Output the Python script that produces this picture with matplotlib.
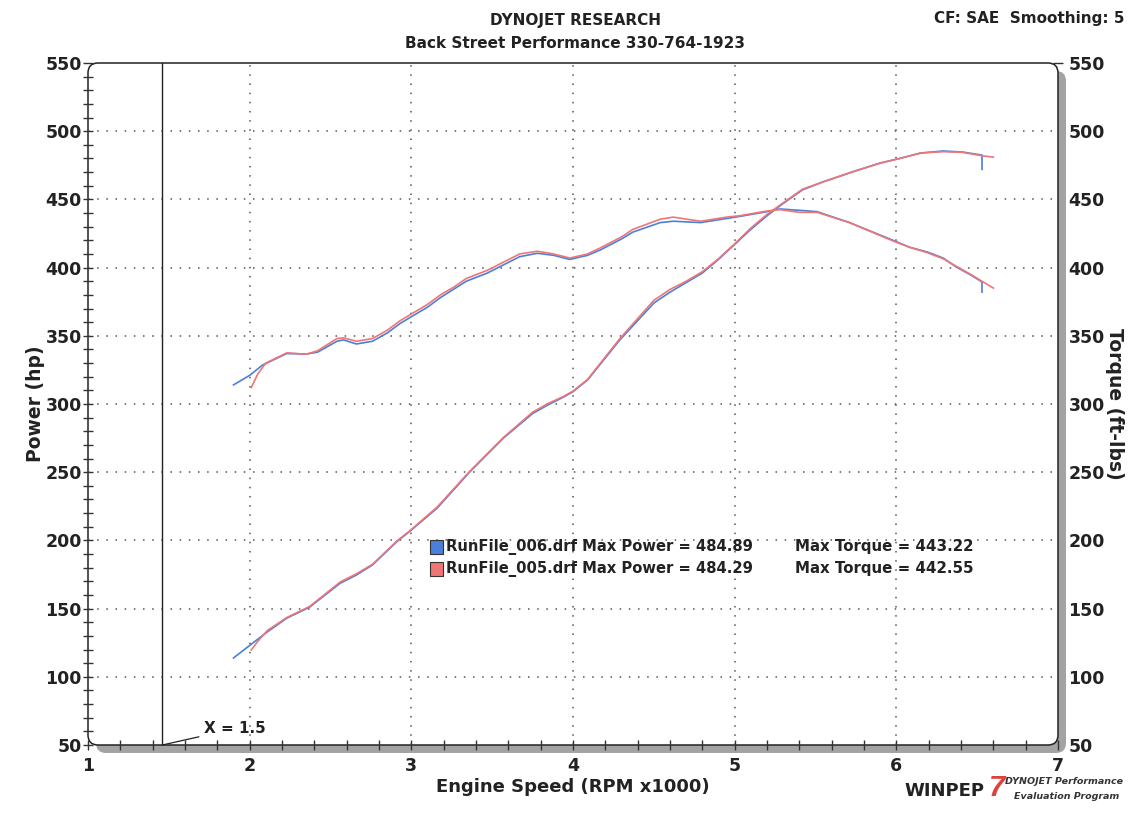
import matplotlib.pyplot as plt
from matplotlib.patches import FancyBboxPatch, Rectangle
from matplotlib.ticker import MultipleLocator

# ---- data (rpm x1000) ----
rpm_006_hp = [1.90, 2.00, 2.11, 2.23, 2.37, 2.56, 2.66, 2.76, 2.91, 3.00, 3.16, 3.36,
              3.57, 3.75, 3.84, 3.94, 4.00, 4.09, 4.29, 4.50, 4.60, 4.70, 4.80, 4.90,
              5.00, 5.10, 5.20, 5.30, 5.42, 5.55, 5.75, 5.90, 6.02, 6.15, 6.29, 6.41,
              6.53, 6.53]
hp_006 = [113.8, 123, 133, 143, 151, 168.6, 174.6, 182, 199, 207.6, 223.7, 250,
          275, 293, 299, 305, 309, 317.6, 347, 374, 382, 389, 396, 406,
          417, 428, 438, 447, 457, 463, 471, 476.7, 480, 484, 485.5, 484.7,
          482.5, 472]

rpm_005_hp = [2.01, 2.05, 2.11, 2.23, 2.37, 2.56, 2.66, 2.76, 2.91, 3.00, 3.16, 3.36,
              3.57, 3.75, 3.84, 3.94, 4.00, 4.09, 4.29, 4.50, 4.60, 4.70, 4.80, 4.90,
              5.00, 5.10, 5.20, 5.30, 5.42, 5.55, 5.75, 5.90, 6.02, 6.15, 6.29, 6.41,
              6.53, 6.60]
hp_005 = [119.7, 126, 134, 143.5, 151.5, 169.5, 175.5, 182.5, 199.5, 208, 224.5, 250.5,
          275.5, 294, 300, 305.5, 309.5, 318, 348, 376, 384, 390, 397, 406.5,
          417.5, 429, 439, 447.5, 457.5, 463, 471, 476.5, 480, 484, 485, 484.5,
          482, 481]

rpm_006_tq = [1.90, 2.00, 2.08, 2.23, 2.35, 2.42, 2.54, 2.58, 2.66, 2.76, 2.85, 2.93,
              3.00, 3.10, 3.18, 3.26, 3.34, 3.47, 3.57, 3.67, 3.78, 3.88, 3.98, 4.09,
              4.17, 4.30, 4.37, 4.54, 4.62, 4.79, 4.95, 5.03, 5.20, 5.28, 5.40, 5.51,
              5.71, 5.98, 6.08, 6.19, 6.29, 6.37, 6.46, 6.53, 6.53]
tq_006 = [314, 321, 328.6, 337, 336.6, 338, 346, 347, 344, 346, 352, 359,
          364, 371, 378, 384, 390, 396, 402, 408, 410.5, 409, 406, 409,
          413, 421, 426, 433, 434, 433, 436, 437.5, 441, 443, 442, 441,
          433, 420, 415, 411.5, 407, 400.5, 394.6, 389.5, 382]

rpm_005_tq = [2.01, 2.05, 2.10, 2.23, 2.35, 2.42, 2.54, 2.58, 2.66, 2.76, 2.85, 2.93,
              3.00, 3.10, 3.18, 3.26, 3.34, 3.47, 3.57, 3.67, 3.78, 3.88, 3.98, 4.09,
              4.17, 4.30, 4.37, 4.54, 4.62, 4.79, 4.95, 5.03, 5.20, 5.28, 5.40, 5.51,
              5.71, 5.98, 6.08, 6.19, 6.29, 6.37, 6.46, 6.53, 6.60]
tq_005 = [312, 322, 330, 337.5, 336.5, 339, 348, 348.5, 346, 348, 354, 361,
          366, 373, 380, 385.5, 392, 398, 404, 410, 412, 410, 407, 410,
          414.5, 422.5, 428, 435.5, 437, 434, 437, 438, 441.5, 442.5, 440.5, 440.5,
          433, 419.5, 415, 411, 406.5, 401, 395, 390, 385]

runs = ["RunFile_006.drf", "RunFile_005.drf"]
max_power = ["484.89", "484.29"]
max_torque = ["443.22", "442.55"]
colors = ["#4a80dc", "#f07575"]
cursor_x = 1.46

fig = plt.figure(figsize=(11.34, 8.13), dpi=100)
ax = fig.add_axes([88 / 1134, 68 / 813, 970 / 1134, 682 / 813])
ax2 = ax.twinx()

# rounded frame with grey drop shadow (figure inches)
sh = FancyBboxPatch((0.88 + 0.08, 0.68 - 0.08), 9.70, 6.82,
                    boxstyle="round,pad=0,rounding_size=0.1",
                    transform=fig.dpi_scale_trans, facecolor="#a3a3a3",
                    edgecolor="none", zorder=0)
fr = FancyBboxPatch((0.88, 0.68), 9.70, 6.82,
                    boxstyle="round,pad=0,rounding_size=0.1",
                    transform=fig.dpi_scale_trans, facecolor="white",
                    edgecolor="#222222", linewidth=1.1, zorder=0.5)
fig.patches.extend([sh, fr])

ax.set_zorder(2)
ax.patch.set_visible(False)
ax2.patch.set_visible(False)
for a in (ax, ax2):
    for s in a.spines.values():
        s.set_visible(False)

ax.set_xlim(1, 7)
ax.set_ylim(50, 550)
ax2.set_ylim(50, 550)

ax.xaxis.set_major_locator(MultipleLocator(1))
ax.xaxis.set_minor_locator(MultipleLocator(0.2))
ax.yaxis.set_major_locator(MultipleLocator(50))
ax.yaxis.set_minor_locator(MultipleLocator(10))
ax2.yaxis.set_major_locator(MultipleLocator(50))
ax2.yaxis.set_minor_locator(MultipleLocator(10))

ax.tick_params(which="both", direction="inout", length=7, width=1, color="#333333")
ax2.tick_params(which="both", direction="inout", length=7, width=1, color="#333333")
ax.tick_params(axis="x", pad=5)
ax.tick_params(axis="y", pad=1)
ax2.tick_params(axis="y", pad=4)
for lab in ax.get_xticklabels() + ax.get_yticklabels() + ax2.get_yticklabels():
    lab.set_fontweight("bold")
    lab.set_fontsize(12.5)
    lab.set_color("#222222")

# dotted grid, only inside the frame
for gx in [2, 3, 4, 5, 6]:
    ax.axvline(gx, color="#555555", linestyle=(0, (1, 5)), linewidth=1.1, zorder=1)
for gy in [100, 150, 200, 250, 300, 350, 400, 450, 500]:
    ax.axhline(gy, color="#555555", linestyle=(0, (1, 5)), linewidth=1.1, zorder=1)

# curves
ax.plot(rpm_006_hp, hp_006, color=colors[0], linewidth=1.2, zorder=3)
ax.plot(rpm_006_tq, tq_006, color=colors[0], linewidth=1.2, zorder=3)
ax.plot(rpm_005_hp, hp_005, color=colors[1], linewidth=1.2, zorder=4)
ax.plot(rpm_005_tq, tq_005, color=colors[1], linewidth=1.2, zorder=4)

# cursor line at X = 1.5
ax.axvline(cursor_x, color="#222222", linewidth=1.0, zorder=3)
ax.annotate("X = 1.5", xy=(cursor_x, 50), xytext=(1.72, 62),
            fontsize=11, fontweight="bold", color="#222222", va="center",
            arrowprops=dict(arrowstyle="-", color="#222222", lw=0.9,
                            shrinkA=2, shrinkB=0))

# legend block
for i in range(2):
    yy = 547 + 22 * i
    fig.patches.append(Rectangle((430 / 1134, 1 - (yy + 7) / 813), 13 / 1134, 14 / 813,
                                 transform=fig.transFigure, facecolor=colors[i],
                                 edgecolor="#333333", linewidth=0.8, zorder=5))
    fig.text(446 / 1134, 1 - yy / 813,
             f"{runs[i]} Max Power = {max_power[i]}",
             fontsize=10.6, fontweight="bold", color="#222222", va="center")
    fig.text(795 / 1134, 1 - yy / 813, f"Max Torque = {max_torque[i]}",
             fontsize=10.8, fontweight="bold", color="#222222", va="center")

# titles / labels
fig.text(575 / 1134, 1 - 20 / 813, "DYNOJET RESEARCH", ha="center", va="center",
         fontsize=11, fontweight="bold", color="#222222")
fig.text(575 / 1134, 1 - 43 / 813, "Back Street Performance 330-764-1923",
         ha="center", va="center", fontsize=11, fontweight="bold", color="#222222")
fig.text(1124 / 1134, 1 - 19 / 813, "CF: SAE  Smoothing: 5", ha="right", va="center",
         fontsize=11, fontweight="bold", color="#222222")

ax.set_xlabel("Engine Speed (RPM x1000)", fontsize=13, fontweight="bold",
              color="#222222", labelpad=2)
ax.set_ylabel("Power (hp)", fontsize=13.5, fontweight="bold", color="#222222",
              labelpad=0)
ax2.set_ylabel("Torque (ft-lbs)", fontsize=13.5, fontweight="bold", color="#222222",
               rotation=270, labelpad=14)

# WinPEP badge
fig.text(904 / 1134, 1 - 791 / 813, "WINPEP", fontsize=13, fontweight="heavy",
         color="#222222", va="center", family="DejaVu Sans Condensed")
fig.text(989 / 1134, 1 - 788 / 813, "7", fontsize=21, fontweight="bold",
         fontstyle="italic", color="#e0403a", va="center", family="Liberation Sans")
fig.text(1005 / 1134, 1 - 781 / 813, "DYNOJET Performance", fontsize=6.8,
         fontweight="bold", fontstyle="italic", color="#333333", va="center")
fig.text(1014 / 1134, 1 - 796 / 813, "Evaluation Program", fontsize=6.8,
         fontweight="bold", fontstyle="italic", color="#333333", va="center")

fig.savefig("out.png", dpi=100)
